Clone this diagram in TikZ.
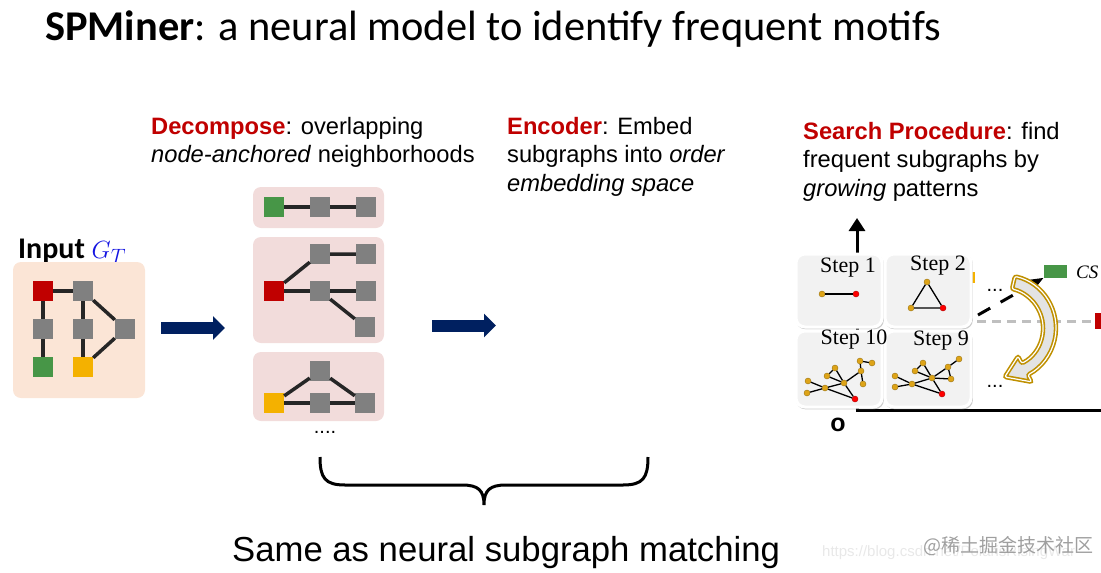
\documentclass[tikz,border=0pt]{standalone}
\usepackage{fontspec}
\setmainfont{Liberation Sans}
\newfontfamily\calibri{Carlito}
\newfontfamily\timesf{Liberation Serif}
\newfontfamily\cjk{Noto Sans CJK SC}
\usetikzlibrary{arrows.meta,shadows}
\definecolor{kw}{RGB}{192,0,0}
\definecolor{navy}{RGB}{0,32,96}
\definecolor{peach}{RGB}{251,229,214}
\definecolor{pinkbg}{RGB}{242,220,219}
\definecolor{nred}{RGB}{192,0,0}
\definecolor{ngreen}{RGB}{71,150,71}
\definecolor{nyellow}{RGB}{244,177,0}
\definecolor{ngray}{RGB}{128,128,128}
\definecolor{edge}{RGB}{38,38,38}
\definecolor{gold}{RGB}{191,144,0}
\definecolor{dotc}{RGB}{222,164,24}
\definecolor{gtblue}{RGB}{20,20,225}

\begin{document}
\begin{tikzpicture}[x=1pt,y=-1pt,
	sq/.style={rectangle,minimum size=20pt,inner sep=0pt,fill=ngray},
	lnk/.style={draw=edge,line width=3.5pt},
	pad/.style={rectangle,rounded corners=8pt,inner sep=0pt,fill=#1},
	bigarrow/.style={draw=navy,line width=12pt,-{Triangle[length=12pt,width=23pt]}},
	txt/.style={font=\fontsize{23.7}{28.5}\selectfont,align=left,inner sep=0pt,anchor=north west},
	stepbox/.style={rectangle,rounded corners=9pt,fill=gray!10,draw=white,line width=3pt,
		minimum width=86pt,drop shadow={opacity=0.4,shadow xshift=1pt,shadow yshift=-1.5pt,shadow scale=1.02}},
	steplbl/.style={font=\timesf\fontsize{22}{22}\selectfont,inner sep=0pt},
	dt/.style={circle,inner sep=0pt,minimum size=6pt,fill=dotc,draw=dotc!70!black,line width=0.4pt},
	rdt/.style={dt,fill=red,draw=red!70!black},
	twig/.style={draw=black,line width=1.3pt}]
	\useasboundingbox (0,0) rectangle (1101,573);

	\node[anchor=base west,inner sep=0pt,font=\calibri\fontsize{42.4}{50}\selectfont] (title) at (45,40)
		{\textbf{SPMiner}: a neural model to identify frequent motifs};

	% input graph
	\node[anchor=base west,inner sep=0pt,font=\calibri\fontsize{30}{30}\selectfont] (inlbl) at (18,258)
		{\textbf{Input} \textcolor{gtblue}{$G_T$}};
	\node[pad=peach,minimum width=132pt,minimum height=136pt]	(inbox) at (79,330) {};
	\node[sq,fill=nred]		(i1) at (43,291) {};
	\node[sq]				(i2) at (83,291) {};
	\node[sq]				(i3) at (43,329) {};
	\node[sq]				(i4) at (83,329) {};
	\node[sq]				(i5) at (125,329) {};
	\node[sq,fill=ngreen]	(i6) at (43,367) {};
	\node[sq,fill=nyellow]	(i7) at (83,367) {};
	\draw[lnk]	(i1) -- (i2);
	\draw[lnk]	(i1) -- (i3) -- (i6);
	\draw[lnk]	(i2) -- (i4) -- (i7);
	\draw[lnk]	(i2) -- (i5) -- (i7);

	\coordinate (a1s) at (161,328);
	\coordinate (a1e) at (225,328);
	\draw[bigarrow]	(a1s) -- (a1e);

	% decompose
	\node[txt] (dectxt) at (151,117)
		{\textcolor{kw}{\textbf{Decompose}}: overlapping\\\textit{node-anchored} neighborhoods};
	\node[pad=pinkbg,minimum width=131pt,minimum height=41pt]	(dtop) at (318.5,207.5) {};
	\node[pad=pinkbg,minimum width=131pt,minimum height=106pt]	(dmid) at (318.5,290) {};
	\node[pad=pinkbg,minimum width=131pt,minimum height=69pt]	(dbot) at (318.5,386.5) {};

	\node[sq,fill=ngreen]	(t1) at (274,207) {};
	\node[sq]				(t2) at (320,207) {};
	\node[sq]				(t3) at (366,207) {};
	\draw[lnk]	(t1) -- (t2) -- (t3);

	\node[sq,fill=nred]		(m1) at (274,291) {};
	\node[sq]				(m2) at (320,254) {};
	\node[sq]				(m3) at (366,254) {};
	\node[sq]				(m4) at (320,291) {};
	\node[sq]				(m5) at (366,291) {};
	\node[sq]				(m6) at (365,327) {};
	\draw[lnk]	(m1) -- (m2) -- (m3);
	\draw[lnk]	(m1) -- (m4) -- (m5);
	\draw[lnk]	(m4) -- (m6);

	\node[sq,fill=nyellow]	(b1) at (274,403) {};
	\node[sq]				(b2) at (320,371) {};
	\node[sq]				(b3) at (320,403) {};
	\node[sq]				(b4) at (365,403) {};
	\draw[lnk]	(b1) -- (b2) -- (b4);
	\draw[lnk]	(b1) -- (b3) -- (b4);

	\node[font=\fontsize{20}{20}\selectfont,inner sep=0pt] (more) at (325,432) {....};

	\coordinate (a2s) at (432,325.5);
	\coordinate (a2e) at (496,325.5);
	\draw[bigarrow]	(a2s) -- (a2e);

	% encoder
	\node[txt] (enctxt) at (507,117)
		{\textcolor{kw}{\textbf{Encoder}}: Embed\\subgraphs into \textit{order}\\\textit{embedding space}};

	% brace
	\coordinate (brl) at (320,457);
	\coordinate (brr) at (648,457);
	\draw[line width=3pt]	(brl) .. controls (320,478) and (325,485) .. (345,485) -- (462,485)
		.. controls (478,485) and (484,490) .. (484,505)
		.. controls (484,490) and (490,485) .. (506,485) -- (623,485)
		.. controls (643,485) and (648,478) .. (brr);
	\node[anchor=base west,inner sep=0pt,font=\fontsize{34.7}{40}\selectfont] (same) at (232,561)
		{Same as neural subgraph matching};

	% search procedure
	\node[txt] (srchtxt) at (803,122)
		{\textcolor{kw}{\textbf{Search Procedure}}: find\\frequent subgraphs by\\\textit{growing} patterns};

	\coordinate (orig) at (857,410);
	\draw[line width=3pt]	(855.5,410) -- (1101,410);
	\draw[line width=3pt,-{Triangle[length=13pt,width=16pt]}]	(857,411.5) -- (857,218);
	\draw[gray!50,line width=3pt,dash pattern=on 9pt off 6pt]	(962,321) -- (1095,321);
	\fill[nred]		(1095,313) rectangle (1104,329);
	\fill[nyellow]	(970,272) rectangle (975,283);

	\node[stepbox,minimum height=73pt]	(st1) at (839,290.5) {};
	\node[stepbox,minimum height=73pt]	(st2) at (928,290.5) {};
	\node[stepbox,minimum height=76pt]	(st10) at (839,369) {};
	\node[stepbox,minimum height=76pt]	(st9) at (928,369) {};
	\node[steplbl]	(l1) at (848,268) {Step 1};
	\node[steplbl]	(l2) at (938,266) {Step 2};
	\node[steplbl]	(l10) at (854,340) {Step 10};
	\node[steplbl]	(l9) at (941,341) {Step 9};

	% step 1 and 2
	\node[dt]	(p1a) at (822,294) {};
	\node[rdt]	(p1b) at (856,294) {};
	\draw[twig]	(p1a) -- (p1b);
	\node[dt]	(p2a) at (927,282) {};
	\node[dt]	(p2b) at (911,308) {};
	\node[rdt]	(p2c) at (943,308) {};
	\draw[twig]	(p2a) -- (p2b) -- (p2c) -- (p2a);

	% step 10
	\node[dt]	(ka) at (808,381) {};
	\node[dt]	(kb) at (807,393) {};
	\node[dt]	(kc) at (825,388) {};
	\node[dt]	(kd) at (827,376) {};
	\node[dt]	(ke) at (835,368) {};
	\node[dt]	(kf) at (844,383) {};
	\node[dt]	(kg) at (860,361) {};
	\node[dt]	(kh) at (872,363) {};
	\node[dt]	(ki) at (861,371) {};
	\node[dt]	(kj) at (863,384) {};
	\node[rdt]	(kk) at (855,399) {};
	\draw[twig]	(ka) -- (kc) -- (kf);
	\draw[twig]	(kb) -- (kc) -- (kk);
	\draw[twig]	(kd) -- (ke) -- (kf) -- (kd);
	\draw[twig]	(kf) -- (ki) -- (kg) -- (kh);
	\draw[twig]	(kf) -- (kk);
	\draw[twig]	(ki) -- (kj);

	% step 9
	\node[dt]	(na) at (895,376) {};
	\node[dt]	(nb) at (895,387) {};
	\node[dt]	(nc) at (912,384) {};
	\node[dt]	(nd) at (915,371) {};
	\node[dt]	(ne) at (923,363) {};
	\node[dt]	(nf) at (932,378) {};
	\node[dt]	(ng) at (948,367) {};
	\node[dt]	(nh) at (959,359) {};
	\node[dt]	(ni) at (951,379) {};
	\node[rdt]	(nj) at (942,394) {};
	\draw[twig]	(na) -- (nc) -- (nf);
	\draw[twig]	(nb) -- (nc) -- (nj);
	\draw[twig]	(nd) -- (ne) -- (nf) -- (nd);
	\draw[twig]	(nf) -- (ng) -- (nh);
	\draw[twig]	(ng) -- (ni) -- (nf) -- (nj);

	% candidate
	\node[rectangle,fill=ngreen,minimum width=23pt,minimum height=13pt,inner sep=0pt]	(csn) at (1055.5,271) {};
	\node[anchor=west,inner sep=0pt,font=\timesf\itshape\fontsize{19}{19}\selectfont]	(cs) at (1076,272) {CS};
	\coordinate (gos) at (978,315);
	\draw[line width=3pt,dash pattern=on 14pt off 12pt,-{Triangle[length=14pt,width=10pt]}]	(gos) -- (csn.south west);
	\node[font=\fontsize{20}{20}\selectfont,inner sep=0pt]	(dup) at (995,290) {...};
	\node[font=\fontsize{20}{20}\selectfont,inner sep=0pt]	(ddn) at (995,386) {...};

	\begin{scope}[shift={(1003,328)}]
		\draw[draw=gold,line width=1.6pt,double=white,double distance=1.2pt,fill=gray!22,rounded corners=2pt]
			(-77:53) arc[start angle=-77,end angle=62,radius=53] -- (62:61) -- (88:49) -- (62:32)
			-- (62:40) arc[start angle=62,end angle=-77,radius=40] -- cycle;
	\end{scope}

	\node[font=\bfseries\fontsize{25}{25}\selectfont,inner sep=0pt]	(olbl) at (838,425) {o};

	% watermark
	\node[anchor=west,inner sep=0pt,text=gray!18,font=\fontsize{15}{15}\selectfont]	(wm1) at (822,553)
		{https://blog.csdn.net/PolarisRisingWar};
	\node[anchor=west,inner sep=0pt,text=gray!75,font=\cjk\fontsize{19}{19}\selectfont]	(wm2) at (923,546)
		{@稀土掘金技术社区};
\end{tikzpicture}
\end{document}
